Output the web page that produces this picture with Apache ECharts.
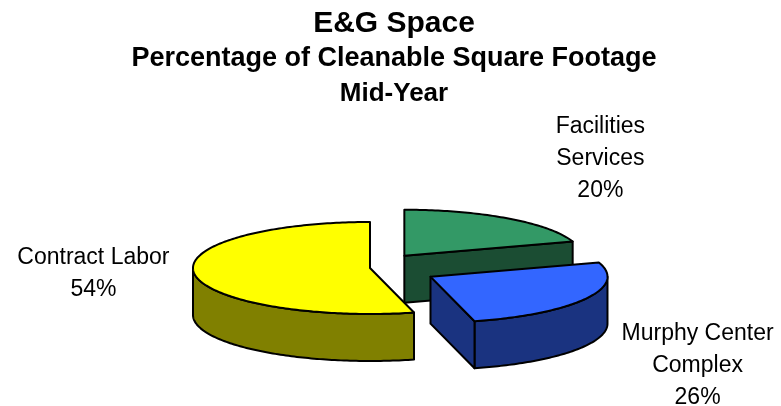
<!DOCTYPE html>
<html>
<head>
<meta charset="utf-8">
<script src="https://cdn.jsdelivr.net/npm/echarts@6/dist/echarts.min.js"></script>
<style>
  html, body { margin: 0; padding: 0; background: #ffffff; }
  #chart { width: 781px; height: 406px; }
</style>
</head>
<body>
<div id="chart"></div>
<script>
// Share of cleanable square footage by provider
const categories = ['Facilities Services', 'Murphy Center Complex', 'Contract Labor'];
const labelLines = [['Facilities', 'Services'], ['Murphy Center', 'Complex'], ['Contract Labor']];
const shares = [20, 26, 54];
const titleLines = ['E&G Space', 'Percentage of Cleanable Square Footage', 'Mid-Year'];

// Per-slice presentation
const explode = [0.33, 0.39, 0];
const topColors = ['#339966', '#3366FF', '#FFFF00'];
const sideColors = ['#1B4D33', '#1A3380', '#808000'];
const labelNudge = [[92, -60], [112, 67], [-101, 0]];

// Tilted pie geometry (ellipse radii and extrusion depth)
const PIE = { cx: 370, cy: 268, rx: 177, ry: 46, depth: 47 };
const FONT = "'Liberation Sans', Arial, sans-serif";

function renderSlice(params, api) {
  const i = params.dataIndex;
  const total = shares.reduce((a, b) => a + b, 0);
  let before = 0;
  for (let k = 0; k < i; k++) before += shares[k];
  const value = api.value(0);
  const a0 = before / total * 360;
  const a1 = (before + value) / total * 360;
  const mid = (a0 + a1) / 2 * Math.PI / 180;
  const e = explode[i];
  const ax = PIE.cx + e * PIE.rx * Math.sin(mid);
  const ay = PIE.cy - e * PIE.ry * Math.cos(mid);
  const d = PIE.depth;
  const P = (deg, dz) => {
    const r = deg * Math.PI / 180;
    return [ax + PIE.rx * Math.sin(r), ay - PIE.ry * Math.cos(r) + (dz || 0)];
  };
  const arc = (from, to, dz) => {
    const pts = [];
    const n = Math.max(2, Math.ceil(Math.abs(to - from)));
    for (let k = 0; k <= n; k++) pts.push(P(from + (to - from) * k / n, dz));
    return pts;
  };
  const z = Math.round(ay * 10);
  const edge = { stroke: '#000000', lineWidth: 2, lineJoin: 'round' };
  const children = [];

  // outer wall, front-facing part only
  const r0 = Math.max(a0, 90), r1 = Math.min(a1, 270);
  if (r1 > r0) {
    const pts = arc(r0, r1, 0).concat(arc(r1, r0, d));
    children.push({ type: 'polygon', z2: z, shape: { points: pts },
      style: Object.assign({ fill: sideColors[i] }, edge) });
  }
  // radial cut faces that turn toward the viewer
  const s1 = Math.sin(a1 * Math.PI / 180);
  if (s1 > 1e-6) {
    children.push({ type: 'polygon', z2: z + 1,
      shape: { points: [[ax, ay], P(a1), P(a1, d), [ax, ay + d]] },
      style: Object.assign({ fill: sideColors[i] }, edge) });
  }
  const s0 = Math.sin(a0 * Math.PI / 180);
  if (s0 < -1e-6) {
    children.push({ type: 'polygon', z2: z + 1,
      shape: { points: [[ax, ay], P(a0), P(a0, d), [ax, ay + d]] },
      style: Object.assign({ fill: sideColors[i] }, edge) });
  }
  // top face
  children.push({ type: 'polygon', z2: z + 2,
    shape: { points: [[ax, ay]].concat(arc(a0, a1, 0)) },
    style: Object.assign({ fill: topColors[i] }, edge) });

  // data label
  const rim = P((a0 + a1) / 2);
  children.push({ type: 'text', z2: 100000,
    style: {
      x: rim[0] + labelNudge[i][0], y: rim[1] + labelNudge[i][1],
      text: labelLines[i].concat([Math.round(value / total * 100) + '%']).join('\n'),
      align: 'center', verticalAlign: 'middle',
      font: '23px ' + FONT, lineHeight: 32, fill: '#000000'
    } });

  return { type: 'group', children: children };
}

const titleStyle = (size) => ({ fontFamily: FONT, fontSize: size, fontWeight: 'bold', color: '#000', lineHeight: 30 });

const chart = echarts.init(document.getElementById('chart'));
chart.setOption({
  backgroundColor: '#ffffff',
  animation: false,
  title: [
    { text: titleLines[0], left: 394, textAlign: 'center', top: 9, padding: 0, textStyle: titleStyle(30) },
    { text: titleLines[1], left: 394, textAlign: 'center', top: 44, padding: 0, textStyle: titleStyle(27) },
    { text: titleLines[2], left: 394, textAlign: 'center', top: 79, padding: 0, textStyle: titleStyle(26) }
  ],
  series: [{
    type: 'custom',
    coordinateSystem: 'none',
    renderItem: renderSlice,
    data: shares.map((v, k) => ({ name: categories[k], value: [v] }))
  }]
});
</script>
</body>
</html>
